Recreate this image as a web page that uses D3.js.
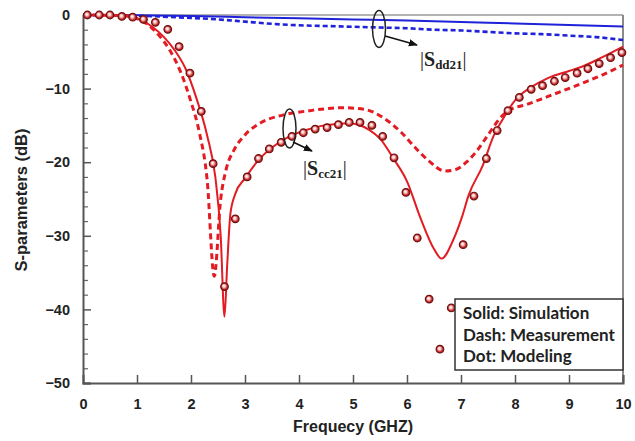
<!DOCTYPE html>
<html>
<head>
<meta charset="utf-8">
<script src="https://cdn.jsdelivr.net/npm/d3@7/dist/d3.min.js"></script>
<style>
  html, body { margin: 0; padding: 0; background: #fff; }
  svg { display: block; }
</style>
</head>
<body>
<svg id="chart" width="635" height="441"></svg>
<script>
// ---- Data (frequency in GHz, magnitude in dB) ----
const xTicks = [0, 1, 2, 3, 4, 5, 6, 7, 8, 9, 10];
const yTicks = [0, -10, -20, -30, -40, -50];
const yMinorTicks = d3.range(0, -51, -2);

// |Sdd21| simulation (solid blue)
const sddSimF  = [0, 1, 2, 3, 4, 5, 6, 7, 8, 9, 10];
const sddSimDb = [0, -0.05, -0.15, -0.3, -0.45, -0.6, -0.75, -0.95, -1.15, -1.35, -1.55];

// |Sdd21| measurement (dashed blue)
const sddMeasF  = [0, 1, 2, 2.5, 3, 3.5, 4, 4.5, 5, 5.5, 6, 6.5, 7, 7.5, 8, 8.5, 9, 9.5, 10];
const sddMeasDb = [0, -0.1, -0.4, -0.6, -0.9, -1.2, -1.4, -1.5, -1.6, -1.7, -1.8, -2.0, -2.1, -2.3, -2.5, -2.6, -2.8, -3.0, -3.4];

// |Scc21| simulation (solid red)
const sccSimF  = [0, 0.5, 0.9, 1.1, 1.3, 1.5, 1.7, 1.9, 2.1, 2.3, 2.45, 2.55, 2.62, 2.67, 2.73, 2.82, 3.0, 3.25, 3.5, 3.8, 4.1, 4.4, 4.7, 4.9, 5.1, 5.3, 5.5, 5.75, 6.0, 6.25, 6.5, 6.64, 6.86, 7.02, 7.14, 7.4, 7.6, 7.77, 8.0, 8.3, 8.6, 9.0, 9.25, 9.6, 10];
const sccSimDb = [0, -0.05, -0.3, -0.8, -1.7, -3.0, -4.8, -7.3, -11.3, -16.4, -22, -30, -41, -34, -27, -24.3, -22.2, -19.7, -18, -16.6, -15.7, -15.1, -14.8, -14.7, -14.9, -15.6, -16.8, -19.5, -22.6, -27.6, -31.8, -33.1, -30.5, -27.4, -24.5, -20.5, -16.5, -14.2, -11.6, -9.8, -8.6, -7.6, -7.0, -5.8, -4.3];

// |Scc21| measurement (dashed red)
const sccMeasF  = [0, 0.8, 1.0, 1.2, 1.4, 1.6, 1.8, 2.0, 2.15, 2.3, 2.43, 2.55, 2.65, 2.8, 3.0, 3.3, 3.7, 4.2, 4.8, 5.2, 5.55, 5.9, 6.15, 6.4, 6.7, 6.9, 7.1, 7.3, 7.5, 7.75, 7.9, 8.2, 8.6, 9.2, 9.6, 10];
const sccMeasDb = [0, -0.1, -0.5, -1.3, -2.7, -4.7, -7.6, -11.8, -15.8, -22.5, -35.5, -25, -21, -18.3, -16.3, -14.6, -13.6, -13.0, -12.6, -12.8, -13.9, -16, -18, -19.8, -21.2, -21.0, -20.0, -18.4, -16.3, -13.8, -12.9, -12.2, -11.1, -9.4, -8.2, -6.8];

// |Scc21| modeling (dots)
const sccModF  = [0.08, 0.3, 0.5, 0.72, 0.92, 1.12, 1.34, 1.57, 1.78, 1.98, 2.19, 2.41, 2.62, 2.82, 3.04, 3.25, 3.45, 3.67, 3.87, 4.08, 4.3, 4.52, 4.73, 4.93, 5.13, 5.35, 5.55, 5.76, 5.98, 6.19, 6.41, 6.61, 6.82, 7.04, 7.24, 7.47, 7.67, 7.87, 8.08, 8.3, 8.51, 8.73, 8.93, 9.15, 9.35, 9.56, 9.77, 9.98];
const sccModDb = [0, 0, 0, -0.2, -0.3, -0.6, -1.0, -1.95, -4.3, -7.9, -13.1, -20.2, -36.9, -27.7, -22, -19.5, -18.2, -17.3, -16.5, -16, -15.5, -15.3, -14.9, -14.6, -14.6, -15.0, -16.5, -19.4, -24.1, -30.3, -38.6, -45.4, -39.8, -31.2, -24.6, -19.5, -15.7, -13, -11.2, -10.1, -9.6, -9.0, -8.5, -7.9, -7.3, -6.6, -5.8, -5.1];

const legendLines = ["Solid: Simulation", "Dash: Measurement", "Dot: Modeling"];

// ---- Layout ----
const margin = { left: 83, top: 15, right: 12, bottom: 58 };
const W = 635, H = 441;
const x = d3.scaleLinear().domain([0, 10]).range([margin.left, W - margin.right]);
const y = d3.scaleLinear().domain([-50, 0]).range([H - margin.bottom, margin.top]);

const RED = "#e31b23";
const BLUE = "#1f22d8";

const svg = d3.select("#chart");
const defs = svg.append("defs");

const grad = defs.append("radialGradient").attr("id", "ball")
  .attr("cx", "50%").attr("cy", "50%").attr("r", "55%")
  .attr("fx", "40%").attr("fy", "38%");
grad.append("stop").attr("offset", "0%").attr("stop-color", "#ffffff");
grad.append("stop").attr("offset", "35%").attr("stop-color", "#f4c4c4");
grad.append("stop").attr("offset", "70%").attr("stop-color", "#c83030");
grad.append("stop").attr("offset", "100%").attr("stop-color", "#8a1010");

defs.append("marker").attr("id", "arrow")
  .attr("viewBox", "0 0 10 10").attr("refX", 9).attr("refY", 5)
  .attr("markerWidth", 6).attr("markerHeight", 6).attr("orient", "auto")
  .append("path").attr("d", "M0,1 L10,5 L0,9 Z").attr("fill", "#111");

// ---- Frame and axes ----
const plotG = svg.append("g");

// top and right borders
plotG.append("line").attr("x1", x(0)).attr("x2", x(10)).attr("y1", y(0)).attr("y2", y(0))
  .attr("stroke", "#9a9a9a").attr("stroke-width", 1.5);
plotG.append("line").attr("x1", x(10)).attr("x2", x(10)).attr("y1", y(0)).attr("y2", y(-50))
  .attr("stroke", "#8a8a8a").attr("stroke-width", 2);

const xAxis = d3.axisBottom(x).tickValues(xTicks).tickSize(-8).tickPadding(16)
  .tickFormat(d3.format("d"));
const gx = svg.append("g").attr("transform", `translate(0,${y(-50)})`).call(xAxis);
gx.select(".domain").attr("stroke", "#555").attr("stroke-width", 2);
gx.selectAll(".tick line").attr("stroke", "#555").attr("stroke-width", 1.5);
gx.selectAll(".tick").filter(d => d === 0).select("line").remove();
gx.selectAll("text").attr("font-family", "'Liberation Sans', Arial, sans-serif")
  .attr("font-weight", "bold").attr("font-size", "14.5px").attr("fill", "#222");

// minor y ticks
const gyMinor = svg.append("g").attr("transform", `translate(${x(0)},0)`)
  .call(d3.axisLeft(y).tickValues(yMinorTicks.filter(v => v % 10 !== 0)).tickSize(-5).tickFormat(""));
gyMinor.select(".domain").remove();
gyMinor.selectAll(".tick line").attr("stroke", "#666").attr("stroke-width", 1.2);

const yAxis = d3.axisLeft(y).tickValues(yTicks).tickSize(-8).tickPadding(13)
  .tickFormat(d3.format("d"));
const gy = svg.append("g").attr("transform", `translate(${x(0)},0)`).call(yAxis);
gy.select(".domain").attr("stroke", "#555").attr("stroke-width", 2);
gy.selectAll(".tick line").attr("stroke", "#555").attr("stroke-width", 1.5);
gy.selectAll("text").attr("font-family", "'Liberation Sans', Arial, sans-serif")
  .attr("font-weight", "bold").attr("font-size", "14.5px").attr("fill", "#222");

// axis titles
svg.append("text").attr("x", (x(0) + x(10)) / 2).attr("y", 432)
  .attr("text-anchor", "middle")
  .attr("font-family", "'Liberation Sans', Arial, sans-serif")
  .attr("font-weight", "bold").attr("font-size", "16px").attr("fill", "#222")
  .text("Frequecy (GHZ)");
svg.append("text").attr("transform", `translate(27,200) rotate(-90)`)
  .attr("text-anchor", "middle")
  .attr("font-family", "'Liberation Sans', Arial, sans-serif")
  .attr("font-weight", "bold").attr("font-size", "16.5px").attr("fill", "#222")
  .text("S-parameters (dB)");

// ---- Curves ----
const line = d3.line().x(d => x(d[0])).y(d => y(d[1])).curve(d3.curveMonotoneX);
const pairs = (fs, vs) => fs.map((f, i) => [f, vs[i]]);

const dataG = svg.append("g");
dataG.append("path").datum(pairs(sddSimF, sddSimDb)).attr("d", line)
  .attr("fill", "none").attr("stroke", BLUE).attr("stroke-width", 2);
dataG.append("path").datum(pairs(sddMeasF, sddMeasDb)).attr("d", line)
  .attr("fill", "none").attr("stroke", BLUE).attr("stroke-width", 2.6)
  .attr("stroke-dasharray", "5,3");
dataG.append("path").datum(pairs(sccSimF, sccSimDb)).attr("d", line)
  .attr("fill", "none").attr("stroke", RED).attr("stroke-width", 2)
  .attr("stroke-linejoin", "miter");
dataG.append("path").datum(pairs(sccMeasF, sccMeasDb)).attr("d", line)
  .attr("fill", "none").attr("stroke", RED).attr("stroke-width", 3)
  .attr("stroke-dasharray", "6,4");

dataG.selectAll("circle.model").data(pairs(sccModF, sccModDb)).join("circle")
  .attr("class", "model")
  .attr("cx", d => x(d[0])).attr("cy", d => y(d[1])).attr("r", 3.8)
  .attr("fill", "url(#ball)").attr("stroke", "#6e1010").attr("stroke-width", 1.2);

// ---- Annotations ----
const annG = svg.append("g");
function tag(cx, cy, rx, ry, ax1, ay1, ax2, ay2, tx, ty, sub) {
  annG.append("ellipse").attr("cx", cx).attr("cy", cy).attr("rx", rx).attr("ry", ry)
    .attr("fill", "none").attr("stroke", "#222").attr("stroke-width", 1.5);
  annG.append("line").attr("x1", ax1).attr("y1", ay1).attr("x2", ax2).attr("y2", ay2)
    .attr("stroke", "#111").attr("stroke-width", 1.5).attr("marker-end", "url(#arrow)");
  const t = annG.append("text").attr("x", tx).attr("y", ty)
    .attr("font-family", "'Liberation Serif', 'Times New Roman', serif")
    .attr("fill", "#222");
  t.append("tspan").attr("font-size", "20px").text("|");
  t.append("tspan").attr("font-size", "20px").attr("font-weight", "bold").text("S");
  t.append("tspan").attr("font-size", "13px").attr("font-weight", "bold").attr("dy", 3).text(sub);
  t.append("tspan").attr("font-size", "20px").attr("dy", -3).text("|");
}
tag(379, 29, 6.5, 18.5, 385, 36, 417, 45, 420, 66, "dd21");
tag(289.5, 128.5, 6.5, 19.5, 293, 142, 312, 151, 303, 175, "cc21");

// ---- Legend ----
const lg = svg.append("g");
lg.append("rect").attr("x", 455).attr("y", 299).attr("width", x(10) - 455).attr("height", 71)
  .attr("fill", "#fff").attr("stroke", "#333").attr("stroke-width", 1.5);
lg.selectAll("text").data(legendLines).join("text")
  .attr("x", 463).attr("y", (d, i) => 319 + i * 21.5)
  .attr("font-family", "Lato, 'Open Sans', sans-serif").attr("font-weight", "bold")
  .attr("font-size", "17px").attr("fill", "#222")
  .text(d => d);
</script>
</body>
</html>
